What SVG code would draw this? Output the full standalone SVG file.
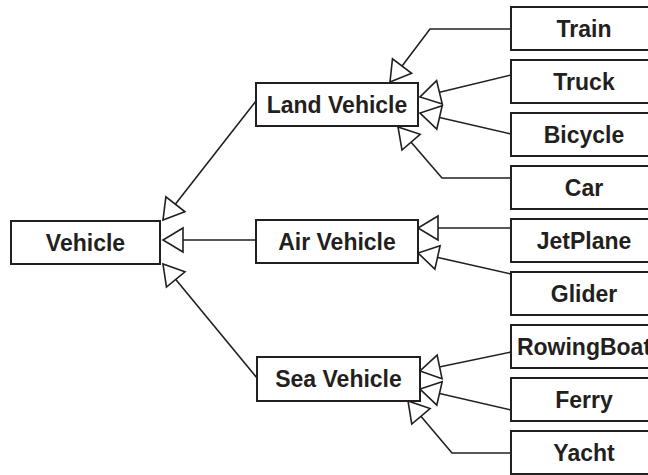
<svg xmlns="http://www.w3.org/2000/svg" width="648" height="475" viewBox="0 0 648 475">
<style>
.box{fill:#fff;stroke:#231f20;stroke-width:2}
.lbl{font-family:"Liberation Sans",Arial,sans-serif;font-weight:bold;font-size:23px;fill:#231f20;text-anchor:middle}
.con{fill:none;stroke:#231f20;stroke-width:1.6;marker-end:url(#tri)}
</style>
<defs>
<marker id="tri" viewBox="0 0 20 24" refX="20" refY="12" markerWidth="20" markerHeight="24" markerUnits="userSpaceOnUse" orient="auto" overflow="visible">
<path d="M0,0 L20,12 L0,24 Z" fill="#fff" stroke="#231f20" stroke-width="1.6" stroke-linejoin="miter"/>
</marker>
</defs>
<rect width="648" height="475" fill="#fff"/>
<g id="connectors">
<path class="con" d="M256,101 L163,220"/>
<path class="con" d="M256,240 L163,240"/>
<path class="con" d="M257,378 L163,264"/>
<path class="con" d="M511,29 L430,29 L390,82"/>
<path class="con" d="M511,75 L420,97"/>
<path class="con" d="M511,134 L420,113"/>
<path class="con" d="M511,178 L442,178 L398,127"/>
<path class="con" d="M511,228 L418,228"/>
<path class="con" d="M511,274 L418,253"/>
<path class="con" d="M511,352 L420,371"/>
<path class="con" d="M511,410 L420,389"/>
<path class="con" d="M511,453 L452,453 L408,401"/>
</g>
<g id="vehicle"><rect class="box" x="11" y="221" width="149" height="43"/><text class="lbl" x="85.5" y="250.5">Vehicle</text></g>
<g id="land"><rect class="box" x="256" y="83" width="162" height="43"/><text class="lbl" x="337" y="112.5">Land Vehicle</text></g>
<g id="air"><rect class="box" x="256" y="220" width="162" height="43"/><text class="lbl" x="337" y="249.5">Air Vehicle</text></g>
<g id="sea"><rect class="box" x="257" y="357" width="163" height="44"/><text class="lbl" x="338.5" y="387">Sea Vehicle</text></g>
<g id="train"><rect class="box" x="511" y="7" width="149" height="43"/><text class="lbl" x="584" y="36.5">Train</text></g>
<g id="truck"><rect class="box" x="511" y="60" width="149" height="43"/><text class="lbl" x="584" y="89.5">Truck</text></g>
<g id="bicycle"><rect class="box" x="511" y="113" width="149" height="43"/><text class="lbl" x="584" y="142.5">Bicycle</text></g>
<g id="car"><rect class="box" x="511" y="166" width="149" height="43"/><text class="lbl" x="584" y="195.5">Car</text></g>
<g id="jetplane"><rect class="box" x="511" y="219" width="149" height="43"/><text class="lbl" x="584" y="248.5">JetPlane</text></g>
<g id="glider"><rect class="box" x="511" y="272" width="149" height="43"/><text class="lbl" x="584" y="301.5">Glider</text></g>
<g id="rowingboat"><rect class="box" x="511" y="325" width="149" height="43"/><text class="lbl" x="584" y="354.5">RowingBoat</text></g>
<g id="ferry"><rect class="box" x="511" y="378" width="149" height="43"/><text class="lbl" x="584" y="407.5">Ferry</text></g>
<g id="yacht"><rect class="box" x="511" y="431" width="149" height="43"/><text class="lbl" x="584" y="460.5">Yacht</text></g>
</svg>
